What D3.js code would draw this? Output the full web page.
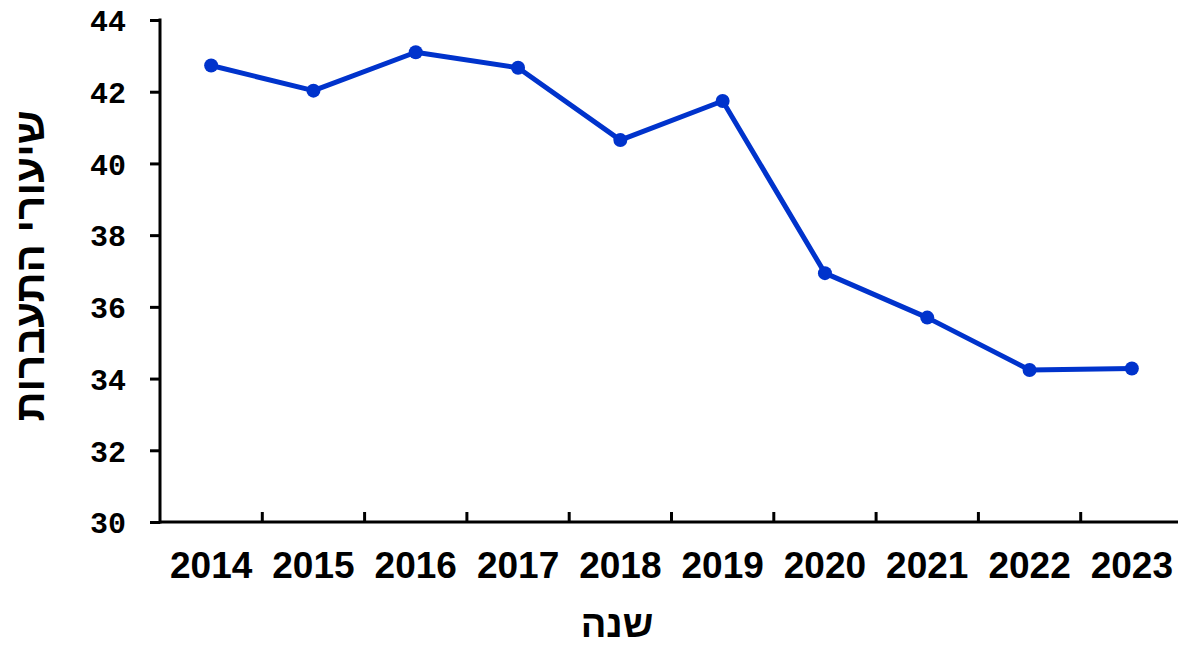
<!DOCTYPE html>
<html>
<head>
<meta charset="utf-8">
<script src="https://cdn.jsdelivr.net/npm/d3@7"></script>
<style>
  body { margin: 0; background: #fff; }
  svg { display: block; }
  .ytick text { font-family: "Liberation Mono", "Courier New", monospace; font-weight: bold; }
  .xtick text { font-family: "Liberation Sans", Arial, sans-serif; font-weight: bold; }
  .title { font-family: "Liberation Sans", Arial, sans-serif; font-weight: bold; }
</style>
</head>
<body>
<svg width="1178" height="648"></svg>
<script>
const years = ["2014", "2015", "2016", "2017", "2018", "2019", "2020", "2021", "2022", "2023"];
const rates = [42.73, 42.03, 43.10, 42.67, 40.65, 41.74, 36.94, 35.70, 34.24, 34.28];
const yTicks = [30, 32, 34, 36, 38, 40, 42, 44];

// plot box (runs a bit past the right edge, like the original)
const plotL = 160, plotR = 1183, plotT = 20, plotB = 522;
const lineColor = "#0033cc";

const svg = d3.select("svg");

const x = d3.scaleBand().domain(years).range([plotL, plotR]);
const y = d3.scaleLinear().domain([30, 44]).range([plotB, plotT]);

// y axis
const yAxis = svg.append("g")
    .attr("class", "ytick")
    .attr("transform", `translate(${plotL},0)`)
    .call(d3.axisLeft(y).tickValues(yTicks).tickSize(10).tickPadding(24).tickFormat(d3.format("d")));
yAxis.select(".domain").remove();
yAxis.selectAll("line").attr("stroke", "#000").attr("stroke-width", 3);
yAxis.selectAll("text").attr("font-size", 30).attr("fill", "#000").attr("dy", "0.36em");

svg.append("line")
    .attr("x1", plotL).attr("x2", plotL)
    .attr("y1", plotT - 1.5).attr("y2", plotB + 1.5)
    .attr("stroke", "#000").attr("stroke-width", 3);

// x axis: labels at band centres, ticks on band edges pointing up
const xAxis = svg.append("g")
    .attr("class", "xtick")
    .attr("transform", `translate(0,${plotB})`)
    .call(d3.axisBottom(x).tickSize(0).tickPadding(30));
xAxis.select(".domain").remove();
xAxis.selectAll("text").attr("font-size", 37).attr("fill", "#000");

svg.append("line")
    .attr("x1", plotL).attr("x2", plotR)
    .attr("y1", plotB).attr("y2", plotB)
    .attr("stroke", "#000").attr("stroke-width", 3);

svg.selectAll(".xedge")
    .data(years.slice(1))
    .enter().append("line")
    .attr("class", "xedge")
    .attr("x1", d => x(d)).attr("x2", d => x(d))
    .attr("y1", plotB).attr("y2", plotB - 10)
    .attr("stroke", "#000").attr("stroke-width", 3);

// series
const pts = years.map((yr, i) => ({ yr, v: rates[i] }));
const cx = d => x(d.yr) + x.bandwidth() / 2;

svg.append("path")
    .datum(pts)
    .attr("fill", "none")
    .attr("stroke", lineColor)
    .attr("stroke-width", 5)
    .attr("stroke-linejoin", "round")
    .attr("d", d3.line().x(cx).y(d => y(d.v)));

svg.selectAll(".dot")
    .data(pts)
    .enter().append("circle")
    .attr("class", "dot")
    .attr("cx", cx)
    .attr("cy", d => y(d.v))
    .attr("r", 7)
    .attr("fill", lineColor);

// titles
svg.append("text")
    .attr("class", "title")
    .attr("transform", "translate(44,266) rotate(-90)")
    .attr("text-anchor", "middle")
    .attr("font-size", 42)
    .attr("direction", "rtl")
    .text("שיעורי התעברות");

svg.append("text")
    .attr("class", "title")
    .attr("x", 617)
    .attr("y", 637)
    .attr("text-anchor", "middle")
    .attr("font-size", 38)
    .attr("direction", "rtl")
    .text("שנה");
</script>
</body>
</html>
